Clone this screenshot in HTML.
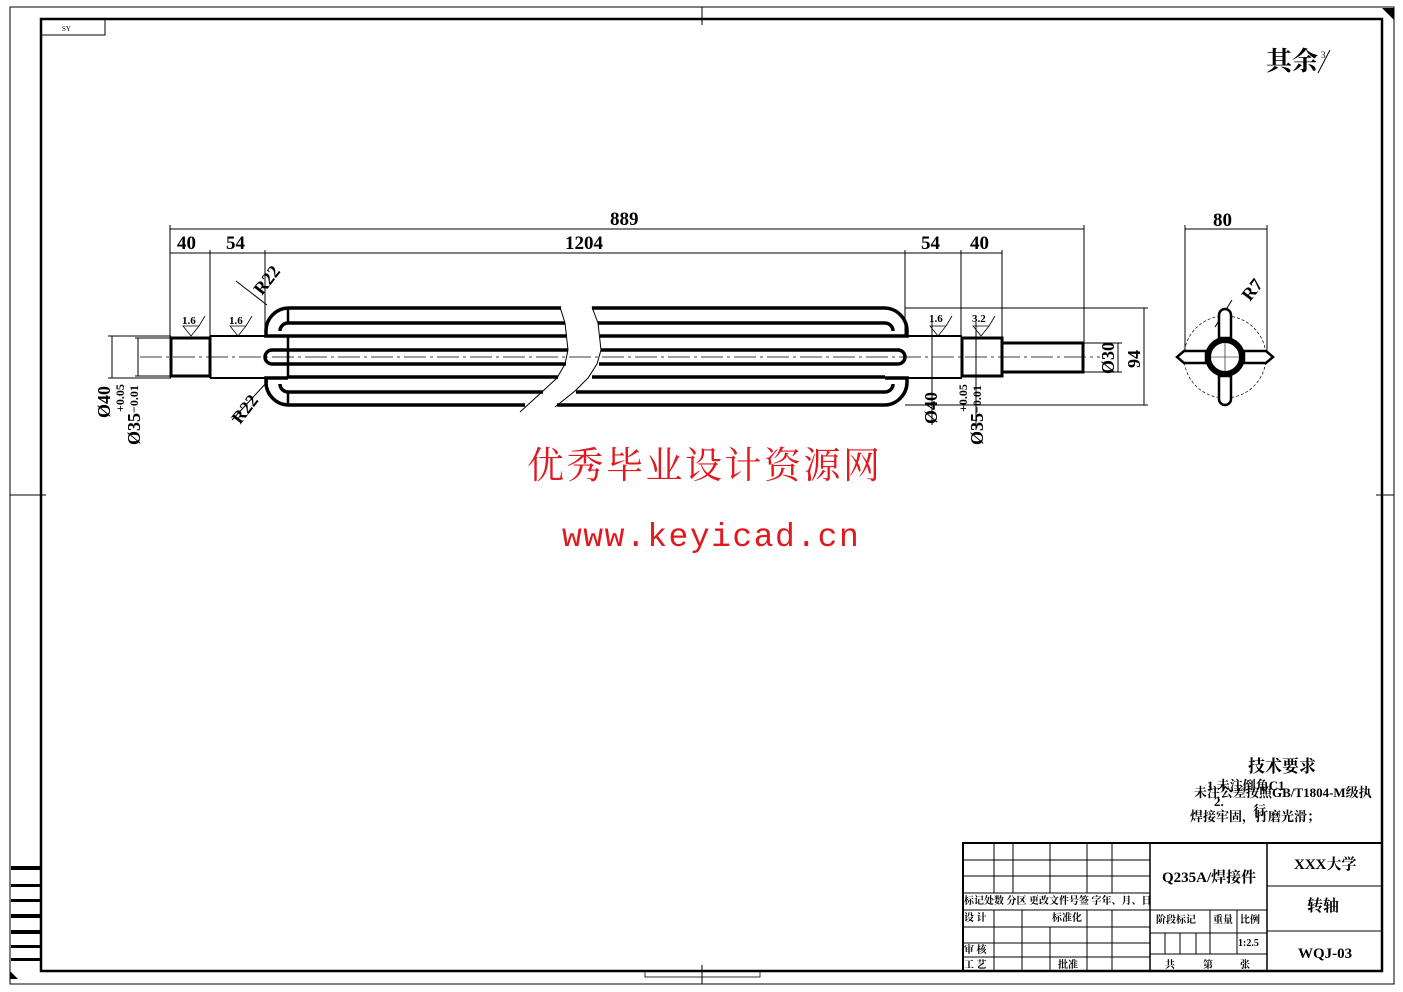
<!DOCTYPE html>
<html><head><meta charset="utf-8"><style>
body{margin:0;background:#fff}
svg{display:block;font-family:"Liberation Serif","Noto Serif CJK SC",serif}
.t{font-family:"Liberation Serif","Noto Serif CJK SC",serif;fill:#000}
</style></head><body>
<svg width="1403" height="992" viewBox="0 0 1403 992" xmlns="http://www.w3.org/2000/svg">
<rect x="10" y="7" width="1384" height="977" fill="none" stroke="#000" stroke-width="1"/>
<rect x="41" y="19" width="1341" height="952" fill="none" stroke="#000" stroke-width="2.5"/>
<rect x="41" y="19" width="64" height="16" fill="none" stroke="#000"/>
<text x="62" y="31" font-size="7" class="t">SY</text>
<path d="M702 7V25M702 965V984M10 495H46M1376 495H1394" stroke="#000"/>
<path d="M1382 8L1394 8L1394 20Z" fill="#000"/>
<path d="M10 971L18 979L10 979Z" fill="#000"/>
<rect x="645" y="971" width="115" height="6" fill="none" stroke="#000" stroke-width="0.8"/>
<g fill="#000">
<rect x="11" y="866" width="30" height="4"/><rect x="11" y="884" width="30" height="3"/><rect x="11" y="899" width="30" height="3"/>
<rect x="11" y="914" width="30" height="4"/><rect x="11" y="930" width="30" height="4"/><rect x="11" y="945" width="30" height="3"/><rect x="11" y="958" width="30" height="3"/>
</g>
<text x="1266" y="70" font-size="26" font-weight="bold" class="t">其余</text>
<text x="1321" y="58" font-size="9" class="t">3</text>
<path d="M1318 73L1330 50" stroke="#000"/>

<path d="M140 357H1100" stroke="#000" stroke-width="0.8" stroke-dasharray="22 4 3 4"/>
<rect x="171" y="338" width="39" height="38" fill="none" stroke="#000" stroke-width="3"/>
<path d="M210 336H265M210 378H265" stroke="#000" stroke-width="2"/>
<path d="M210 336V378" stroke="#000" stroke-width="2"/>
<g stroke="#000" stroke-width="3.5" fill="none">
<path d="M288 308H561M288 323H565M288 336H567M288 350H568M288 364H566M288 377H558M288 392H543M288 405H525"/>
<path d="M592 308H885M598 323H885M600 336H885M601 350H885M599 364H885M592 377H885M576 392H885M557 405H885"/>
<path d="M288 308A23 23 0 0 0 266 331V336H288M288 323A8 8 0 0 0 280 331"/>
<path d="M288 405A23 23 0 0 1 266 382V378H288M288 392A8 8 0 0 1 280 384"/>
<path d="M288 350H272A7 7 0 0 0 272 364H288"/>
<path d="M288 308V323M288 392V405M288 336V378" stroke-width="2.5"/>
<path d="M885 308A23 23 0 0 1 907 331V336H885M885 323A8 8 0 0 1 893 331"/>
<path d="M885 405A23 23 0 0 0 907 382V378H885M885 392A8 8 0 0 0 893 384"/>
<path d="M885 350H898A7 7 0 0 1 898 364H885"/>
</g>
<path d="M560 307L565 323L568 350L565 364L557 378L543 391L520 412" stroke="#000" fill="none"/>
<path d="M592 307L598 323L601 350L597 364L588 378L575 391L555 407" stroke="#000" fill="none"/>
<path d="M907 336H962M907 378H962" stroke="#000" stroke-width="2"/>
<rect x="962" y="338" width="40" height="38" fill="none" stroke="#000" stroke-width="3"/>
<rect x="1002" y="343" width="81" height="29" fill="none" stroke="#000" stroke-width="3"/>

<g stroke="#000" stroke-width="1" fill="none">
<path d="M170 225V338M210 250V338M265 250V336M905 250V336M961 250V338M1002 250V343M1084 225V343"/>
<path d="M170 229H1084M170 253H1002"/>
<path d="M108 336H171M135 338H171M108 378H171M135 376H171M112 336V378M138 338V376"/>
<path d="M1083 343H1122M1083 372H1122M1118 343V372M905 308H1148M905 405H1148M1144 308V405"/>
<path d="M932 322V425M976 322V430"/>
<path d="M1185 225V357M1267 225V357M1185 229H1267"/>
<path d="M236 281L267 305M232 420L268 381M1232 300L1215 327"/>
</g>
<g font-size="19" font-weight="bold" class="t">
<text x="177" y="249">40</text><text x="226" y="249">54</text>
<text x="565" y="249">1204</text><text x="610" y="225">889</text>
<text x="921" y="249">54</text><text x="970" y="249">40</text>
<text x="1213" y="226">80</text>
</g>
<g font-size="18" font-weight="bold" class="t">
<text transform="translate(262,296) rotate(-52)">R22</text>
<text transform="translate(240,425) rotate(-52)">R22</text>
<text transform="translate(1250,302) rotate(-52)">R7</text>
<text transform="translate(110,418) rotate(-90)">Ø40</text>
<text transform="translate(140,445) rotate(-90)">Ø35</text>
<text transform="translate(937,424) rotate(-90)">Ø40</text>
<text transform="translate(983,445) rotate(-90)">Ø35</text>
<text transform="translate(1114,374) rotate(-90)">Ø30</text>
<text transform="translate(1140,368) rotate(-90)">94</text>
</g>
<g font-size="12" font-weight="bold" class="t">
<text transform="translate(124,412) rotate(-90)">+0.05</text>
<text transform="translate(138,413) rotate(-90)">−0.01</text>
<text transform="translate(967,412) rotate(-90)">+0.05</text>
<text transform="translate(981,413) rotate(-90)">−0.01</text>
</g>
<g stroke="#000" fill="none" stroke-width="0.8">
<path d="M183 326L191 336L199 326ZM199 326L205 316"/>
<path d="M230 326L238 336L246 326ZM246 326L252 316"/>
<path d="M930 326L938 336L946 326ZM946 326L952 316"/>
<path d="M973 326L981 336L989 326ZM989 326L995 316"/>
</g>
<g font-size="11" font-weight="bold" class="t">
<text x="182" y="324">1.6</text><text x="229" y="324">1.6</text>
<text x="929" y="322">1.6</text><text x="972" y="322">3.2</text>
</g>
<circle cx="1225" cy="357" r="41" fill="none" stroke="#000" stroke-width="0.7" stroke-dasharray="3 2"/>
<g stroke="#000" stroke-width="2.5" fill="#fff">
<path d="M1219 338V315A6 6 0 0 1 1231 315V338Z"/>
<path d="M1219 376V399A6 6 0 0 0 1231 399V376Z"/>
<path d="M1206 351H1184L1177 357L1184 363H1206Z"/>
<path d="M1244 351H1266L1273 357L1266 363H1244Z"/>
</g>
<circle cx="1225" cy="357" r="17" fill="#fff" stroke="#000" stroke-width="6"/>
<path d="M1225 343V371M1211 357H1239" stroke="#000" stroke-width="0.6"/>
<text x="527" y="478" font-size="37" letter-spacing="2.5" fill="#e0191f" font-family="Liberation Serif,Noto Serif CJK SC,serif">优秀毕业设计资源网</text>
<text x="562" y="546" font-size="33" letter-spacing="1.5" fill="#e0191f" font-family="Liberation Mono,monospace">www.keyicad.cn</text>
<text x="1248" y="772" font-size="17" font-weight="bold" class="t">技术要求</text>
<g font-size="13" font-weight="bold" class="t">
<text x="1207" y="790">1.未注倒角C1</text>
<text x="1194" y="797">未注公差按照GB/T1804-M级执</text>
<text x="1214" y="806">2.</text><text x="1253" y="815">行</text>
<text x="1190" y="821">焊接牢固，打磨光滑；</text>
</g>
<g stroke="#000" fill="none">
<rect x="963" y="843" width="419" height="128" stroke-width="2"/>
<path d="M1150 843V971M1267 843V971" stroke-width="1.5"/>
<path d="M963 860H1150M963 876H1150M963 893H1150M963 910H1267M963 927H1150M963 943H1150M963 957H1150M1150 933H1267M1150 954H1267M1267 886H1382M1267 931H1382"/>
<path d="M994 843V893M1013 843V893M1050 843V893M1087 843V893M1112 843V893"/>
<path d="M994 910V971M1022 910V971M1050 927V971M1087 910V971M1112 910V971"/>
<path d="M1210 910V954M1237 910V954M1165 933V954M1180 933V954M1196 933V954"/>
</g>
<g font-size="10" font-weight="bold" class="t">
<text x="964" y="904">标记处数 分区 更改文件号签 字年、月、日</text>
<text x="964" y="921">设 计</text><text x="1052" y="921">标准化</text>
<text x="964" y="953">审 核</text><text x="964" y="968">工 艺</text><text x="1058" y="968">批准</text>
<text x="1156" y="923">阶段标记</text><text x="1213" y="923">重量</text><text x="1240" y="923">比例</text>
<text x="1238" y="946">1:2.5</text>
<text x="1165" y="968">共</text><text x="1203" y="968">第</text><text x="1240" y="968">张</text>
</g>
<text x="1162" y="882" font-size="15" font-weight="bold" class="t">Q235A/焊接件</text>
<text x="1294" y="869" font-size="15" font-weight="bold" class="t">XXX大学</text>
<text x="1307" y="911" font-size="16" font-weight="bold" class="t">转轴</text>
<text x="1298" y="958" font-size="15" font-weight="bold" class="t">WQJ-03</text>
</svg>
</body></html>
